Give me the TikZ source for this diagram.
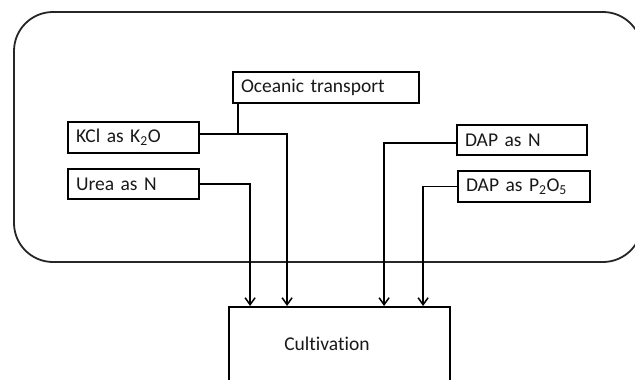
\documentclass[tikz,border=0pt]{standalone}
\usepackage{fontspec}
\setmainfont[Ligatures={NoCommon},WordSpace=0.75]{Carlito}
\usetikzlibrary{arrows.meta,calc}
\begin{document}
\begin{tikzpicture}[x=1pt,y=-1pt,
  every node/.style={font=\fontsize{19.5}{22}\selectfont, text=black!90},
  box/.style={draw=black, line width=1.8pt, rectangle, inner xsep=8pt, inner ysep=0pt, align=left, anchor=center},
  conn/.style={line width=1.7pt, draw=black},
  arr/.style={conn, -{Straight Barb[length=7pt,width=10pt,line width=1.5pt]}},
  frame/.style={draw=black!85, line width=1.8pt, rounded corners=39pt}
]
\useasboundingbox (0,0) rectangle (635,380);
\clip (0,0) rectangle (635,380);
\fill[white] (0,0) rectangle (635,380);
% outer rounded frame
\draw[frame] (14,12) rectangle (642,262);
% boxes
\node[box, minimum width=186pt, minimum height=31pt, text width=170pt] (ocean) at (326,87.5) {Oceanic transport};
\node[box, minimum width=131pt, minimum height=31pt, text width=115pt] (kcl) at (133.5,137.5) {KCl as K\textsubscript{2}O};
\node[box, minimum width=131pt, minimum height=30pt, text width=115pt] (urea) at (133.5,184) {Urea as N};
\node[box, minimum width=130pt, minimum height=30pt, text width=114pt] (dapn) at (522,140) {DAP as N};
\node[box, minimum width=132pt, minimum height=31pt, text width=116pt] (dapp) at (524,186.5) {DAP as P\textsubscript{2}O\textsubscript{5}};
\node[draw=black, line width=1.8pt, rectangle, minimum width=221pt, minimum height=120pt, anchor=north] (cult) at (339.5,306) {};
\node (cultlabel) at (327,344) {Cultivation};
% connectors
\coordinate (kclout) at ($(kcl.north east)!0.4!(kcl.south east)$);
\coordinate (kj) at (238,134);
\coordinate (dapnout) at ($(dapn.north west)!0.6!(dapn.south west)$);
\draw[conn] (ocean.south -| kj) -- (kj);
\draw[arr] (kclout) -| ($(cult.north west)+(59,0)$);
\draw[arr] (urea.east) -| ($(cult.north west)+(22,0)$);
\draw[arr] (dapnout) -| ($(cult.north west)+(156,0)$);
\draw[arr] (dapp.west) -| ($(cult.north west)+(195,0)$);
\end{tikzpicture}
\end{document}
